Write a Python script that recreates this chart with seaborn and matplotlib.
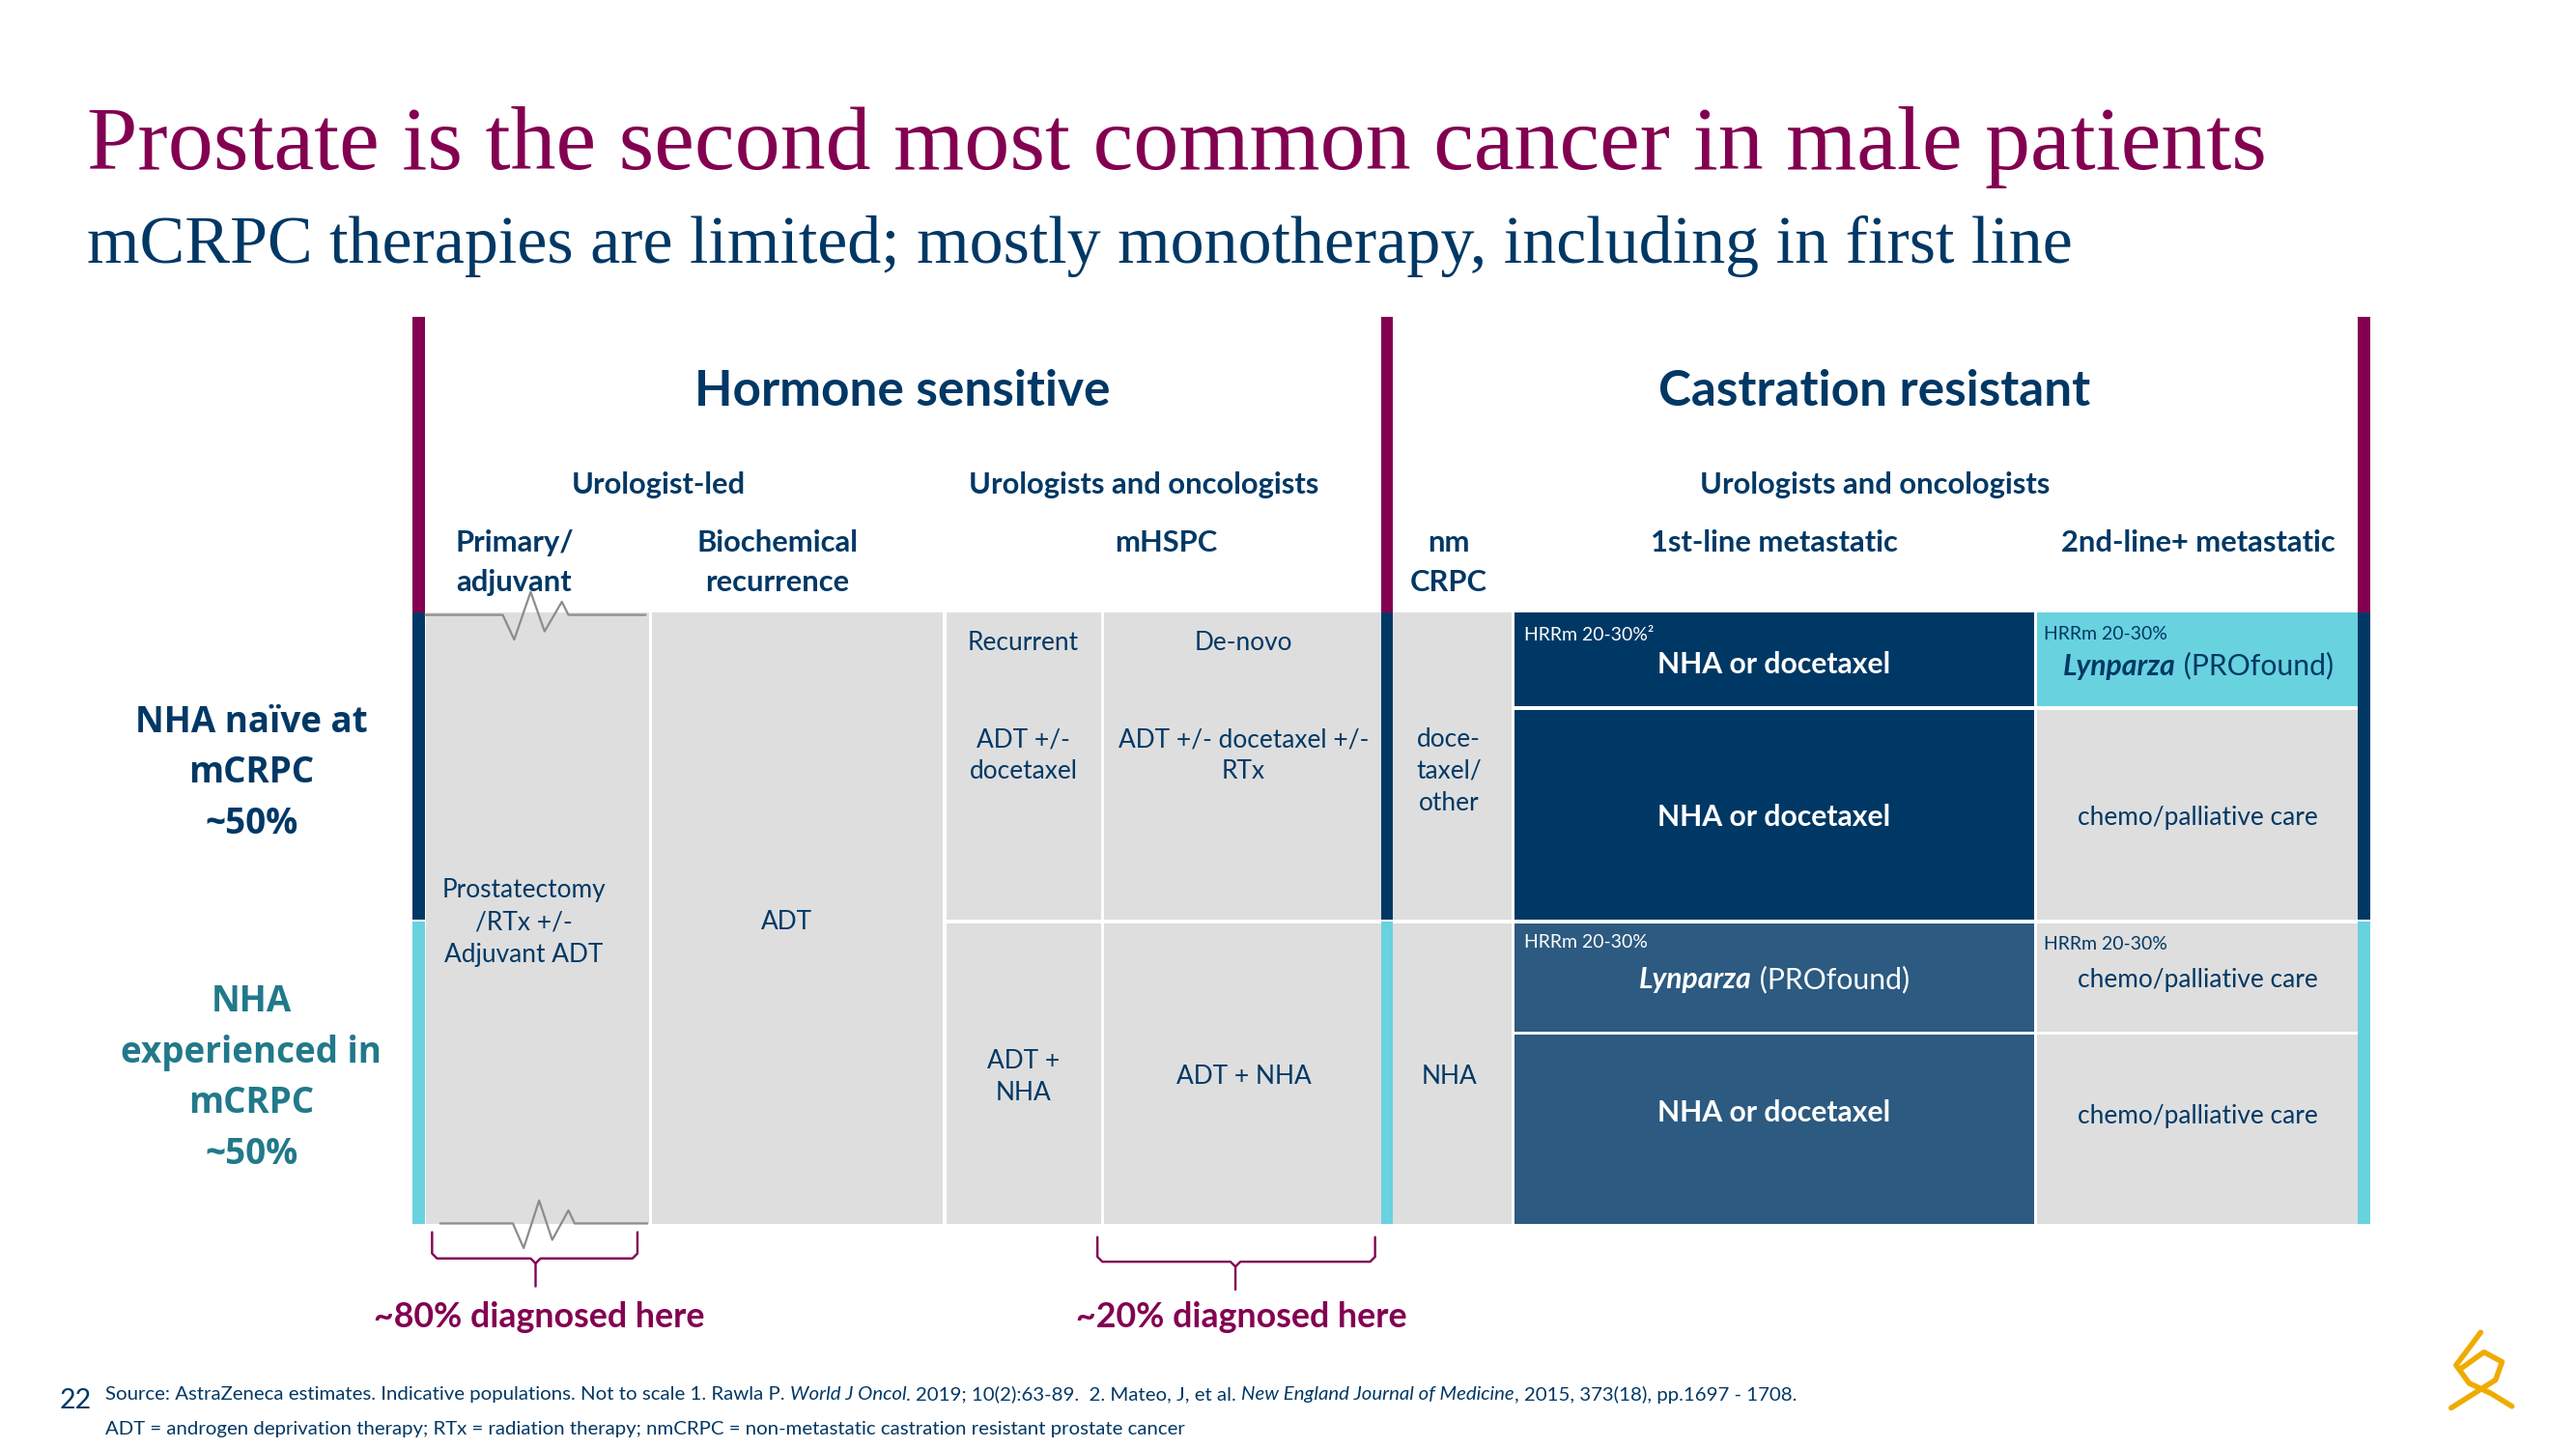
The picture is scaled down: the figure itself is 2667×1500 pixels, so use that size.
import matplotlib
matplotlib.use('Agg')
import matplotlib.pyplot as plt
import seaborn as sns

# ---- slide text ----
title = 'Prostate is the second most common cancer in male patients'
subtitle = 'mCRPC therapies are limited; mostly monotherapy, including in first line'
stages = ['Hormone sensitive', 'Castration resistant']
specialists = ['Urologist-led', 'Urologists and oncologists', 'Urologists and oncologists']
columns = ['Primary/\nadjuvant', 'Biochemical\nrecurrence', 'mHSPC', 'nm\nCRPC',
           '1st-line metastatic', '2nd-line+ metastatic']
populations = ['NHA naïve at\nmCRPC\n~50%', 'NHA\nexperienced in\nmCRPC\n~50%']
diagnosed = ['~80% diagnosed here', '~20% diagnosed here']
hs_cells = ['Prostatectomy\n/RTx +/-\nAdjuvant ADT', 'ADT', 'Recurrent', 'De-novo',
            'ADT +/-\ndocetaxel', 'ADT +/- docetaxel +/-\nRTx', 'ADT +\nNHA', 'ADT + NHA']
nm_cells = ['doce-\ntaxel/\nother', 'NHA']
first_line = ['NHA or docetaxel', 'NHA or docetaxel', 'Lynparza', 'NHA or docetaxel']
second_line = ['Lynparza', 'chemo/palliative care', 'chemo/palliative care', 'chemo/palliative care']
hrrm = ['HRRm 20-30%²', 'HRRm 20-30%', 'HRRm 20-30%', 'HRRm 20-30%']
profound = ' (PROfound)'
source = ['Source: AstraZeneca estimates. Indicative populations. Not to scale 1. Rawla P. ',
          'World J Oncol', '. 2019; 10(2):63-89.  2. Mateo, J, et al. ',
          'New England Journal of Medicine', ', 2015, 373(18), pp.1697 - 1708.']
abbrev = 'ADT = androgen deprivation therapy; RTx = radiation therapy; nmCRPC = non-metastatic castration resistant prostate cancer'
page = '22'

# ---- colours ----
NAVY = '#003865'
MAG = '#830051'
CYAN = '#68D2DF'
TEAL = '#21798A'
MID = '#2C5A80'
GREY = '#DEDEDE'
ZIG = '#8C8C8C'
GOLD = '#EFAB00'

sns.set_theme(style='white')
plt.rcParams['font.family'] = ['Lato', 'DejaVu Sans']

# canvas in reference units (1568 x 882), drawn at 2667 x 1500
W, H = 1568, 882
K = 2667 / W
fig = plt.figure(figsize=(26.67, 15), dpi=100)
ax = fig.add_axes([0, 0, 1, 1])
ax.set_xlim(0, W)
ax.set_ylim(H, 0)
ax.axis('off')
R = fig.canvas.get_renderer()


def tw(s, size, **kw):
    t = ax.text(0, 0, s + '|', fontsize=size, **kw)
    w1 = t.get_window_extent(R).width
    t.set_text('|')
    w2 = t.get_window_extent(R).width
    t.remove()
    return (w1 - w2) / K


def fit(s, target, **kw):
    return 20 * target / tw(s, 20, **kw)


def put(x, y, s, size, pitch=0, ha='center', **kw):
    lines = s.split('\n')
    y0 = y - pitch * (len(lines) - 1) / 2
    for i, line in enumerate(lines):
        ax.text(x, y0 + i * pitch, line, fontsize=size, ha=ha,
                va='center_baseline', **kw)


def runs(x, y, parts, size, ha='center', **kw):
    widths = [tw(s, size, **kw, **st) for s, st in parts]
    x0 = x - sum(widths) / 2 if ha == 'center' else x
    for (s, st), w in zip(parts, widths):
        ax.text(x0, y, s, fontsize=size, ha='left', va='center_baseline', **kw, **st)
        x0 += w


def box(x0, x1, y0, y1, c):
    ax.bar(x0, y1 - y0, width=x1 - x0, bottom=y0, align='edge', color=c, lw=0)


# ---- sizes ----
SERIF = 'Liberation Serif'
s_title = fit(title, 1327, family=SERIF)
s_sub = fit(subtitle, 1212, family=SERIF)
s_h1 = fit(stages[0], 253, fontweight='bold')
s_h2 = fit(specialists[1], 213, fontweight='bold')
s_cell = fit('chemo/palliative care', 146)
s_bold = fit('NHA or docetaxel', 142, fontweight='bold')
s_small = fit('HRRm 20-30%', 75)
s_side = fit('experienced in', 159, family='Open Sans', fontweight='bold')
s_diag = fit(diagnosed[0], 202, fontweight='bold')
s_foot = fit(abbrev, 659)

# ---- titles ----
ax.text(53, 103, title, fontsize=s_title, family=SERIF, color=MAG, va='baseline')
ax.text(53, 160, subtitle, fontsize=s_sub, family=SERIF, color=NAVY, va='baseline')

# ---- vertical stage bars ----
for bx in [(251, 258.5), (841, 848), (1435, 1443)]:
    box(bx[0], bx[1], 193, 373, MAG)
    box(bx[0], bx[1], 373, 559.5, NAVY)
    box(bx[0], bx[1], 561, 745, CYAN)

# ---- table cells ----
cells = [
    (259, 395, 373, 745, GREY), (397, 574, 373, 745, GREY),
    (576, 670, 373, 560, GREY), (576, 670, 562, 745, GREY),
    (672, 841, 373, 560, GREY), (672, 841, 562, 745, GREY),
    (848, 920, 373, 560, GREY), (848, 920, 562, 745, GREY),
    (922, 1238, 373, 430, NAVY), (922, 1238, 432, 560, NAVY),
    (922, 1238, 562, 628, MID), (922, 1238, 630, 745, MID),
    (1240, 1435, 373, 430, CYAN), (1240, 1435, 432, 560, GREY),
    (1240, 1435, 562, 628, GREY), (1240, 1435, 630, 745, GREY),
]
for c in cells:
    box(*c)

# broken-axis zigzags on the first column
zx = [0, 47, 54, 64, 72.5, 83, 87, 134]
zy = [0, 0, 15, -14, 10, -8, 0, 0]
ax.plot([259 + v for v in zx], [374.3 + v for v in zy], color=ZIG, lw=1.6)
ax.plot([268 + v * 0.94 for v in zx], [744.7 + v for v in zy], color=ZIG, lw=1.6)

# ---- headers ----
put(549, 236, stages[0], s_h1, color=NAVY, fontweight='bold')
put(1141, 236, stages[1], s_h1, color=NAVY, fontweight='bold')
for x, s in zip([401, 696, 1141], specialists):
    put(x, 294, s, s_h2, color=NAVY, fontweight='bold')
for (x, y), s in zip([(313, 341), (473, 341), (710, 329), (882, 341), (1080, 329), (1338, 329)], columns):
    put(x, y, s, s_h2, pitch=24, color=NAVY, fontweight='bold')

# ---- cell texts ----
for (x, y), s in zip([(319, 560), (479, 560), (623, 390), (757, 390),
                      (623, 458.5), (757, 458.5), (623, 654), (757, 654)], hs_cells):
    put(x, y, s, s_cell, pitch=19.5, color=NAVY)
for (x, y), s in zip([(882, 468), (882, 654)], nm_cells):
    put(x, y, s, s_cell, pitch=19.5, color=NAVY)

for y, s in zip([403, 496, 595, 676], first_line):
    if s == 'Lynparza':
        runs(1080, y, [(s, dict(fontweight='bold', style='italic')), (profound, {})], s_bold, color='white')
    else:
        put(1080, y, s, s_bold, color='white', fontweight='bold')
for y, s in zip([404, 496, 595, 678], second_line):
    if s == 'Lynparza':
        runs(1338, y, [(s, dict(fontweight='bold', style='italic')), (profound, {})], s_bold, color=NAVY)
    else:
        put(1338, y, s, s_cell, color=NAVY)
for (x, y, c), s in zip([(928, 386, 'white'), (1244, 385, NAVY), (928, 573, 'white'), (1244, 574, NAVY)], hrrm):
    put(x, y, s, s_small, ha='left', color=c)

# ---- population labels ----
put(153, 468, populations[0], s_side, pitch=31, color=NAVY, family='Open Sans', fontweight='bold')
put(153, 653.5, populations[1], s_side, pitch=31, color=TEAL, family='Open Sans', fontweight='bold')

# ---- diagnosis brackets ----
for (l, r, c, top, mid, bot), s in zip([(263, 388, 326, 750, 766, 783),
                                        (668, 837, 752, 753, 768, 785)], diagnosed):
    ax.plot([l, l, l + 3, c - 3, c, c], [top, mid - 3, mid, mid, mid + 3, bot], color=MAG, lw=1.7)
    ax.plot([r, r, r - 3, c + 3, c], [top, mid - 3, mid, mid, mid + 3], color=MAG, lw=1.7)
    put((l + r) / 2 + 3, 800, s, s_diag, color=MAG, fontweight='bold')

# ---- footer ----
put(36, 851, page, s_foot * 1.4, ha='left', color=NAVY)
ital = dict(style='italic')
runs(64, 848, [(source[0], {}), (source[1], ital), (source[2], {}), (source[3], ital), (source[4], {})],
     s_foot, ha='left', color=NAVY)
put(64, 869, abbrev, s_foot, ha='left', color=NAVY)

# logo mark (rough)
ax.plot([1510, 1495, 1503, 1516, 1529], [811, 831, 842, 848, 856], color=GOLD, lw=4, solid_capstyle='round')
ax.plot([1498, 1512, 1523, 1519, 1492], [833, 823, 829, 840, 857], color=GOLD, lw=4, solid_capstyle='round')

fig.savefig('out.png', dpi=100, facecolor='white')
